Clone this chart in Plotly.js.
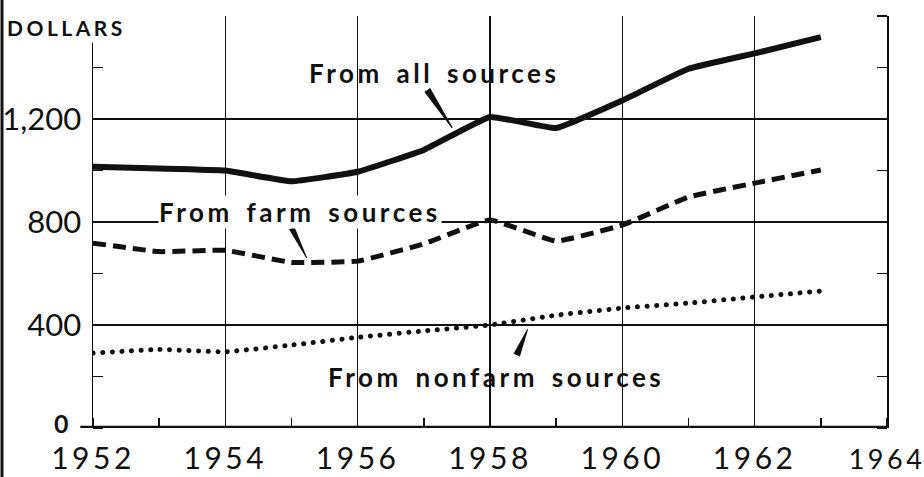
<!DOCTYPE html>
<html>
<head>
<meta charset="utf-8">
<script src="https://cdn.plot.ly/plotly-3.0.1.min.js"></script>
<style>
  html, body { margin: 0; padding: 0; background: #fff; }
  #chart { width: 924px; height: 477px; }
  .annotation-text { letter-spacing: 3.5px; word-spacing: 4px; }
  .xtick text { letter-spacing: 3.5px; }
</style>
</head>
<body>
<div id="chart"></div>
<script>
// Data (dollars per year)
const years = [1952, 1953, 1954, 1955, 1956, 1957, 1958, 1959, 1960, 1961, 1962, 1963];
const allSources = [1015, 1008, 1000, 958, 995, 1080, 1208, 1165, 1272, 1395, 1455, 1518];
const farmSources = [718, 685, 690, 643, 648, 715, 808, 726, 788, 897, 951, 1002];
const nonfarmSources = [291, 305, 296, 322, 352, 377, 400, 438, 466, 485, 509, 532];

const yTickVals = [0, 400, 800, 1200, 1600];
const yTickText = ['', '400', '800', '1,200', ''];
const zeroLabel = '0';
const xTickVals = [1952, 1954, 1956, 1958, 1960, 1962, 1964];
const xTickText = ['1952', '1954', '1956', '1958', '1960', '1962', '<span style="font-size:27px">1964</span>'];

const ink = '#111';
const fam = 'Lato, "Noto Sans", sans-serif';

const traces = [
  { x: years, y: allSources, mode: 'lines', line: { color: ink, width: 6, shape: 'spline', smoothing: 0.3 }, hoverinfo: 'skip' },
  { x: years, y: farmSources, mode: 'lines', line: { color: ink, width: 5, dash: '13px,7px', shape: 'spline', smoothing: 0.3 }, hoverinfo: 'skip' },
  { x: years, y: nonfarmSources, mode: 'lines', line: { color: ink, width: 5, dash: '0.1px,9.5px', shape: 'spline', smoothing: 0.3 }, hoverinfo: 'skip' }
];

const labelFont = { family: fam, size: 26, color: ink, weight: 'bold' };

function wedge(xa, ya, path) {
  return { type: 'path', xref: 'x', yref: 'y', xsizemode: 'pixel', ysizemode: 'pixel',
           xanchor: xa, yanchor: ya, path: path, fillcolor: ink, line: { width: 0 }, layer: 'above' };
}

const layout = {
  width: 924, height: 477,
  margin: { l: 93, r: 37, t: 16, b: 49, pad: 0 },
  paper_bgcolor: '#fff', plot_bgcolor: '#fff',
  showlegend: false,
  font: { family: fam, color: ink },
  xaxis: {
    range: [1952, 1964], tickvals: xTickVals, ticktext: xTickText,
    showgrid: true, gridcolor: ink, gridwidth: 1.5,
    zeroline: false, showline: false, ticks: '', layer: 'below traces',
    minor: { ticks: 'inside', dtick: 1, tick0: 1952, ticklen: 10, tickwidth: 1.5, tickcolor: ink, showgrid: false },
    tickfont: { size: 30, color: ink, family: fam },
    ticklabelstandoff: 10, ticklabeloverflow: 'allow', fixedrange: true
  },
  yaxis: {
    range: [0, 1600], tickvals: yTickVals, ticktext: yTickText,
    showgrid: true, gridcolor: ink, gridwidth: 1.5,
    zeroline: false, showline: true, linecolor: ink, linewidth: 1.5, mirror: 'ticks',
    ticks: '', layer: 'below traces',
    minor: { ticks: 'inside', dtick: 200, tick0: 0, ticklen: 10, tickwidth: 1.5, tickcolor: ink, showgrid: false },
    tickfont: { size: 31, color: ink, family: fam },
    ticklabelstandoff: 4, ticklabeloverflow: 'allow', fixedrange: true
  },
  shapes: [
    // white patch behind the DOLLARS label
    { type: 'rect', xref: 'paper', yref: 'paper', x0: -0.105, x1: 0.046, y0: 0.935, y1: 1.05, fillcolor: '#fff', line: { width: 0 }, layer: 'above' },
    // thick base line
    { type: 'line', xref: 'paper', yref: 'y', x0: -0.016, x1: 1.0, y0: 0, y1: 0, line: { color: ink, width: 4.5 }, layer: 'above' },
    // scan edge on the left
    { type: 'line', xref: 'paper', yref: 'paper', x0: -0.1146, x1: -0.1146, y0: -0.13, y1: 1.05, line: { color: ink, width: 3 }, layer: 'above' },
    // pointers
    wedge(1957.43, 1165, 'M -0.5 -0.3 L -27.9 36.1 L -22.1 39.9 L 0.5 0.3 Z'),
    wedge(1955.23, 660, 'M -0.4 -0.2 L -17.7 28.7 L -12.3 31.3 L 0.4 0.2 Z'),
    wedge(1958.57, 384, 'M -0.4 0.2 L -14.2 -24.6 L -7.8 -27.4 L 0.4 -0.2 Z')
  ],
  annotations: [
    { xref: 'paper', yref: 'paper', x: -0.034, y: 0.973, xanchor: 'center', yanchor: 'middle', text: 'DOLLARS', showarrow: false,
      font: { family: fam, size: 21, color: ink, weight: 'bold' } },
    { xref: 'paper', yref: 'y', x: -0.0255, y: 0, xanchor: 'right', yanchor: 'bottom', yshift: -11, borderpad: 0,
      text: zeroLabel, showarrow: false, font: { family: fam, size: 25, color: ink, weight: 'bold' } },
    { x: 1957.15, y: 1379, xanchor: 'center', yanchor: 'middle', text: 'From all sources', showarrow: false, font: labelFont },
    { x: 1955.13, y: 839, xanchor: 'center', yanchor: 'middle', text: 'From farm sources', showarrow: false, font: labelFont, bgcolor: '#fff', borderpad: 0 },
    { x: 1958.09, y: 198, xanchor: 'center', yanchor: 'middle', text: 'From nonfarm sources', showarrow: false, font: labelFont }
  ]
};

Plotly.newPlot('chart', traces, layout, { staticPlot: true, displayModeBar: false }).then(function () {
  const lines = document.querySelectorAll('.scatterlayer .trace .js-line');
  if (lines[2]) lines[2].style.strokeLinecap = 'round';
});
</script>
</body>
</html>
